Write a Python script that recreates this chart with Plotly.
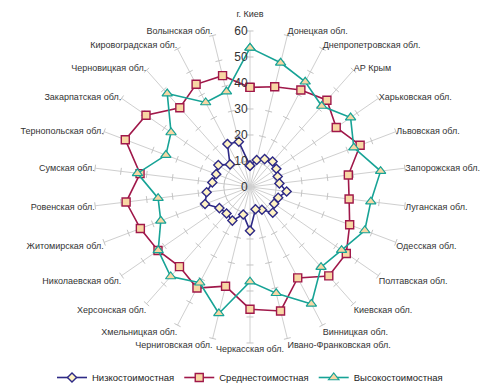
import plotly.graph_objects as go

categories = ["г. Киев", "Донецкая обл.", "Днепропетровская обл.", "АР Крым",
              "Харьковская обл.", "Львовская обл.", "Запорожская обл.", "Луганская обл.",
              "Одесская обл.", "Полтавская обл.", "Киевская обл.", "Винницкая обл.",
              "Ивано-Франковская обл.", "Черкасская обл.", "Черниговская обл.",
              "Хмельницкая обл.", "Херсонская обл.", "Николаевская обл.",
              "Житомирская обл.", "Ровенская обл.", "Сумская обл.", "Тернопольская обл.",
              "Закарпатская обл.", "Черновицкая обл.", "Кировоградская обл.", "Волынская обл."]

low = [8.2, 10.7, 12.1, 13.1, 12.3, 11.4, 11.4, 14.2, 11.6, 11.3, 13.2, 9.9, 8.8,
       16.8, 10.9, 14.6, 13.6, 14.3, 18.5, 16.8, 14.6, 13.9, 14.8, 11.6, 18.7, 17.9]
mid = [38.3, 39.7, 42.1, 44.6, 40.3, 45.3, 38.1, 38.4, 41.0, 45.0, 45.7, 39.5, 49.1,
       47.0, 39.3, 43.9, 40.9, 43.0, 45.1, 48.0, 42.6, 51.3, 48.6, 40.7, 44.6, 44.1]
high = [53.5, 49.2, 45.7, 41.6, 47.0, 42.7, 50.6, 46.8, 47.2, 42.8, 41.2, 50.8, 42.1,
        36.4, 50.1, 41.6, 46.0, 42.9, 36.7, 35.6, 43.6, 34.6, 36.9, 48.0, 36.7, 37.8]

series_names = ["Низкостоимостная", "Среднестоимостная", "Высокостоимостная"]
radial_ticks = [0, 10, 20, 30, 40, 50, 60]

FONT = "Liberation Sans, Arial, sans-serif"

fig = go.Figure()

# tick marks on every spoke
n = len(categories)
tick_r, tick_t, tick_ang = [], [], []
for i, c in enumerate(categories):
    for v in radial_ticks[1:]:
        tick_r.append(v)
        tick_t.append(c)
        tick_ang.append(360.0 * i / n)
fig.add_trace(go.Scatterpolar(
    r=tick_r, theta=tick_t, mode="markers", showlegend=False, hoverinfo="skip",
    marker=dict(symbol="line-ew", size=5, angle=tick_ang,
                line=dict(color="#C4C4C4", width=1)),
))

def closed(v):
    return list(v) + [v[0]]

cats_closed = closed(categories)

fig.add_trace(go.Scatterpolar(
    r=closed(low), theta=cats_closed, mode="lines+markers", name=series_names[0],
    line=dict(color="#2E2A86", width=1.6),
    marker=dict(symbol="diamond", size=7, color="#FFF3C4",
                line=dict(color="#2E2A86", width=1.4)),
))
fig.add_trace(go.Scatterpolar(
    r=closed(mid), theta=cats_closed, mode="lines+markers", name=series_names[1],
    line=dict(color="#A0184A", width=1.6),
    marker=dict(symbol="square", size=8, color="#F8D7A4",
                line=dict(color="#A0184A", width=1.4)),
))
fig.add_trace(go.Scatterpolar(
    r=closed(high), theta=cats_closed, mode="lines+markers", name=series_names[2],
    line=dict(color="#17A396", width=1.6),
    marker=dict(symbol="triangle-up", size=9, color="#F8D7A4",
                line=dict(color="#17A396", width=1.2)),
))

tick_text = [c + "<br>&nbsp;" if i == 0 else c for i, c in enumerate(categories)]

fig.update_layout(
    width=500, height=392,
    margin=dict(l=0, r=0, t=0, b=0),
    paper_bgcolor="white", plot_bgcolor="white",
    font=dict(family=FONT, size=10, color="#333333"),
    showlegend=True,
    legend=dict(orientation="h", x=0.5, xanchor="center", y=0.036, yanchor="middle",
                font=dict(family=FONT, size=9.5, color="#222222"),
                itemwidth=30, tracegroupgap=0),
    polar=dict(
        domain=dict(x=[0.188, 0.812], y=[0.125, 0.921]),
        bgcolor="white",
        angularaxis=dict(type="category", categoryarray=categories,
                         tickmode="array", tickvals=categories, ticktext=tick_text,
                         direction="clockwise", rotation=90,
                         showgrid=True, gridcolor="#CFCFCF", gridwidth=1,
                         showline=False, ticks="", tickfont=dict(size=9, color="#333333")),
        radialaxis=dict(range=[0, 60], tickvals=radial_ticks, angle=90,
                        tickangle=90, showgrid=False, showline=False, ticks="",
                        side="counterclockwise",
                        tickfont=dict(size=12, color="#333333")),
    ),
)

fig.write_html("out.html", config={"displayModeBar": False},
               post_script="document.body.style.margin='0';")
